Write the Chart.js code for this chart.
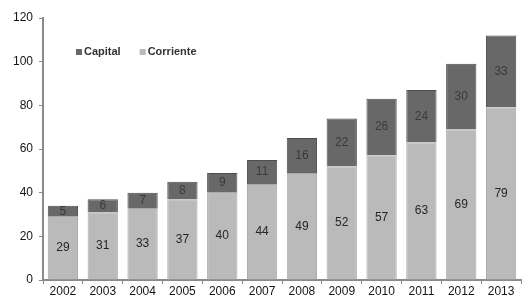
<!DOCTYPE html>
<html>
<head>
<meta charset="utf-8">
<script src="https://cdn.jsdelivr.net/npm/chart.js@4.4.0/dist/chart.umd.min.js"></script>
<style>
  html, body { margin: 0; padding: 0; background: #fff; }
  #wrap { width: 523px; height: 298px; }
</style>
</head>
<body>
<div id="wrap"><canvas id="canvas"></canvas></div>
<script>
var years = ['2002', '2003', '2004', '2005', '2006', '2007', '2008', '2009', '2010', '2011', '2012', '2013'];
var corriente = [29, 31, 33, 37, 40, 44, 49, 52, 57, 63, 69, 79];
var capital = [5, 6, 7, 8, 9, 11, 16, 22, 26, 24, 30, 33];
var yTicks = [0, 20, 40, 60, 80, 100, 120];

var FONT = '"Liberation Sans", Arial, sans-serif';

// value labels in the middle of each segment
var segLabels = {
  id: 'segLabels',
  afterDatasetsDraw: function(chart) {
    var ctx = chart.ctx;
    ctx.save();
    ctx.font = '12px ' + FONT;
    ctx.textAlign = 'center';
    ctx.textBaseline = 'middle';
    chart.data.datasets.forEach(function(ds, i) {
      var meta = chart.getDatasetMeta(i);
      meta.data.forEach(function(bar, j) {
        var y = (bar.y + bar.base) / 2;
        ctx.fillStyle = ds.labelColor;
        ctx.fillText(String(ds.data[j]), bar.x, y);
      });
    });
    ctx.restore();
  }
};

// legend drawn inside the plot, top left
var innerLegend = {
  id: 'innerLegend',
  afterDraw: function(chart) {
    var ctx = chart.ctx;
    var area = chart.chartArea;
    var x = area.left + 33;
    var y = area.top + 34;
    ctx.save();
    ctx.font = 'bold 11px ' + FONT;
    ctx.textBaseline = 'middle';
    ctx.textAlign = 'left';
    var order = [1, 0];
    order.forEach(function(i) {
      var ds = chart.data.datasets[i];
      ctx.fillStyle = ds.backgroundColor;
      ctx.fillRect(x, y - 3, 6, 6);
      ctx.fillStyle = '#333';
      ctx.fillText(ds.label, x + 8, y);
      x += ctx.measureText(ds.label).width + 8 + 19;
    });
    ctx.restore();
  }
};

var ctx = document.getElementById('canvas').getContext('2d');
new Chart(ctx, {
  type: 'bar',
  data: {
    labels: years,
    datasets: [{
      label: 'Corriente',
      data: corriente,
      backgroundColor: '#bababa',
      borderColor: '#a8a8a8',
      borderWidth: 1,
      labelColor: '#262626',
      barPercentage: 0.76,
      categoryPercentage: 1
    }, {
      label: 'Capital',
      data: capital,
      backgroundColor: '#686868',
      borderColor: '#4e4e4e',
      borderWidth: 1,
      labelColor: '#3a3a3a',
      barPercentage: 0.76,
      categoryPercentage: 1
    }]
  },
  options: {
    responsive: true,
    maintainAspectRatio: false,
    animation: false,
    layout: { padding: { top: 18, right: 2, left: 0, bottom: 0 } },
    plugins: {
      legend: { display: false },
      tooltip: { enabled: false }
    },
    scales: {
      x: {
        stacked: true,
        grid: { display: true, drawOnChartArea: false, offset: true, tickLength: 4, color: '#888' },
        border: { color: '#8a8a8a', width: 2 },
        ticks: { color: '#151515', font: { family: FONT, size: 12 }, padding: 0, maxRotation: 0, autoSkip: false },
        afterFit: function(scale) { scale.height = 18; }
      },
      y: {
        stacked: true,
        min: 0,
        max: 120,
        afterBuildTicks: function(scale) {
          scale.ticks = yTicks.map(function(v) { return { value: v }; });
        },
        grid: { display: true, drawOnChartArea: false, tickLength: 4, color: '#888' },
        border: { color: '#8a8a8a', width: 2 },
        ticks: { color: '#151515', font: { family: FONT, size: 12 }, padding: 6 },
        afterFit: function(scale) { scale.width = 43; }
      }
    }
  },
  plugins: [segLabels, innerLegend]
});
</script>
</body>
</html>
